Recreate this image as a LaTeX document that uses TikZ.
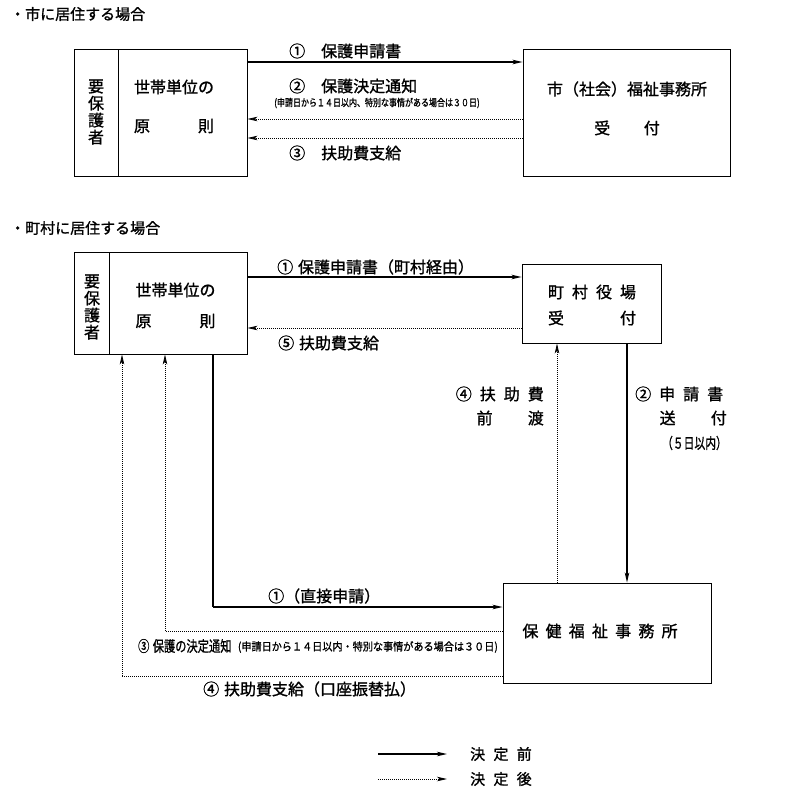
\documentclass[tikz,border=0pt]{standalone}
\usepackage{fontspec}
\newfontfamily\jp{Noto Sans CJK JP}[FakeBold=1.2]
\usetikzlibrary{arrows.meta}
\begin{document}
\begin{tikzpicture}[x=1pt,y=-1pt,
  box/.style={draw, line width=0.9pt, inner sep=0pt},
  t/.style={font=\jp\fontsize{16}{17}\selectfont, inner sep=0pt},
  ttl/.style={font=\jp\fontsize{15}{17}\selectfont, inner sep=0pt, anchor=west},
  tip/.style={-{Stealth[length=10pt,width=4.5pt,inset=2.5pt]}},
  solidarrow/.style={tip, line width=1.2pt},
  dotarrow/.style={tip, line width=0.8pt, dash pattern=on 0.8pt off 1.2pt},
  plainline/.style={line width=1.2pt},
  dotline/.style={line width=0.8pt, dash pattern=on 0.8pt off 1.2pt}]
\useasboundingbox (0,0) rectangle (788,800);

% ---------- Section 1 ----------
\node[ttl] (title1) at (10,14) {・市に居住する場合};
\node[box, minimum width=44pt, minimum height=127pt] (b1l) at (96,112.5) {};
\node[box, minimum width=129pt, minimum height=127pt] (b1r) at (182.5,112.5) {};
\node[t, align=center] (yo1) at (96,112) {要\\保\\護\\者};
\node[t] (sw1) at (174,87) {世帯単位の};
\node[t] (gs1) at (174,126) {原\hspace{3em}則};
\node[box, minimum width=207pt, minimum height=127pt] (c1) at (626.5,112.5) {};
\node[t] (c1a) at (627,89) {市（社会）福祉事務所};
\node[t] (c1b) at (627,128) {受\hspace{2.1em}付};

\draw[solidarrow] (b1r.east |- 0,62) -- (c1.west |- 0,62);
\node[t, anchor=west] (l11) at (289,51) {①　保護申請書};
\node[t, anchor=west] (l12) at (289,86) {②　保護決定通知};
\node[inner sep=0pt, font=\jp\fontsize{10}{11}\selectfont, xscale=0.80] (l12s) at (377,103) {(申請日から１４日以内、特別な事情がある場合は３０日)};
\draw[dotarrow] (c1.west |- 0,119) -- (b1r.east |- 0,119);
\draw[dotarrow] (c1.west |- 0,138) -- (b1r.east |- 0,138);
\node[t, anchor=west] (l13) at (289,153) {③　扶助費支給};

% ---------- Section 2 ----------
\node[ttl] (title2) at (10,228) {・町村に居住する場合};
\node[box, minimum width=35pt, minimum height=102pt] (b2l) at (91.5,303) {};
\node[box, minimum width=138pt, minimum height=102pt] (b2r) at (178,303) {};
\node[t, align=center] (yo2) at (92,307) {要\\保\\護\\者};
\node[t] (sw2) at (175.5,290) {世帯単位の};
\node[t] (gs2) at (175.5,321) {原\hspace{3em}則};

\node[box, minimum width=139pt, minimum height=79pt] (m) at (591.5,303.5) {};
\node[t] (ma) at (592,292) {町\hspace{0.5em}村\hspace{0.5em}役\hspace{0.5em}場};
\node[t] (mb) at (592,318) {受\hspace{3.5em}付};

\node[box, minimum width=208pt, minimum height=100pt] (h) at (607,633) {};
\node[t] (ha) at (600,631) {保\hspace{0.45em}健\hspace{0.45em}福\hspace{0.45em}祉\hspace{0.45em}事\hspace{0.45em}務\hspace{0.45em}所};

% ① via town
\draw[solidarrow] (b2r.east |- 0,277) -- (m.west |- 0,277);
\node[t, anchor=west] (l21) at (277,267) {①\hspace{0.3em}保護申請書（町村経由）};
% ⑤
\draw[dotarrow] (m.west |- 0,328) -- (b2r.east |- 0,328);
\node[t, anchor=west] (l25) at (278,343) {⑤\hspace{0.3em}扶助費支給};

% ④ advance (dotted, up)
\draw[dotarrow] (h.north -| 557,0) -- (m.south -| 557,0);
\node[t, anchor=east] (l24a) at (544,394) {④\hspace{0.5em}扶\hspace{0.5em}助\hspace{0.5em}費};
\node[t, anchor=east] (l24b) at (544,418) {前\hspace{2.2em}渡};

% ② send (solid, down)
\draw[solidarrow] (m.south -| 627,0) -- (h.north -| 627,0);
\node[t, anchor=west] (l22a) at (635,394) {②\hspace{0.5em}申\hspace{0.5em}請\hspace{0.5em}書};
\node[t, anchor=east] (l22b) at (727,418) {送\hspace{2.2em}付};
\node[t, anchor=east, font=\jp\fontsize{15}{16}\selectfont, xscale=0.72] (l22c) at (727,443) {（５日以内）};

% ① direct
\coordinate (d1) at (213,607);
\draw[plainline] (b2r.south -| d1) -- (d1);
\draw[solidarrow] (d1) -- (h.west |- d1);
\node[t, anchor=west] (l2d) at (268,596) {①（直接申請）};

% ③ decision notice
\coordinate (d3) at (165,631);
\draw[dotline] (h.west |- d3) -- (d3);
\draw[dotarrow] (d3) -- (b2r.south -| d3);
\node[t, anchor=west, font=\jp\fontsize{15}{16}\selectfont, xscale=0.75] (l23) at (138,646) {③\hspace{0.3em}保護の決定通知};
\node[inner sep=0pt, anchor=east, font=\jp\fontsize{11}{12}\selectfont, xscale=0.92] (l23s) at (498,647) {(申請日から１４日以内・特別な事情がある場合は３０日)};

% ④ payment
\coordinate (d4) at (122,676);
\draw[dotline] (h.west |- d4) -- (d4);
\draw[dotarrow] (d4) -- (b2r.south -| d4);
\node[t, anchor=west] (l24) at (203,689) {④\hspace{0.3em}扶助費支給（口座振替払）};

% ---------- Legend ----------
\coordinate (ls1) at (378,754);
\coordinate (le1) at (447,754);
\coordinate (ls2) at (378,779);
\coordinate (le2) at (447,779);
\draw[solidarrow] (ls1) -- (le1);
\draw[dotarrow] (ls2) -- (le2);
\node[t, anchor=west, font=\jp\fontsize{15}{16}\selectfont] (lg1) at (470,754) {決\hspace{0.55em}定\hspace{0.55em}前};
\node[t, anchor=west, font=\jp\fontsize{15}{16}\selectfont] (lg2) at (470,779) {決\hspace{0.55em}定\hspace{0.55em}後};
\end{tikzpicture}
\end{document}
